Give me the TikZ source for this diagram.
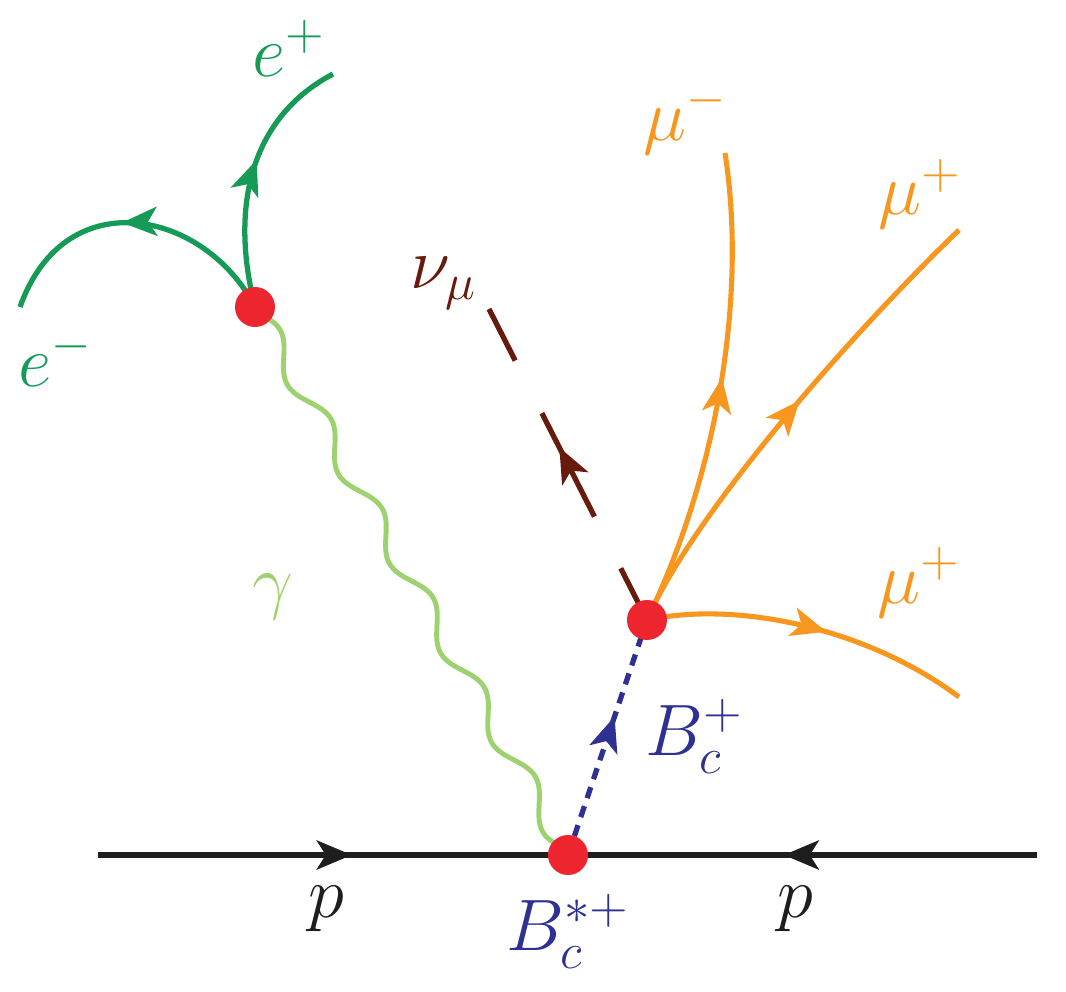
\documentclass[tikz,border=0pt]{standalone}
\usepackage{amsmath}
\usepackage{xcolor}
\usetikzlibrary{arrows.meta,decorations.markings,decorations.pathmorphing}
\definecolor{elecgreen}{RGB}{22,155,87}
\definecolor{photgreen}{RGB}{158,210,112}
\definecolor{muorange}{RGB}{247,151,32}
\definecolor{nubrown}{RGB}{102,27,12}
\definecolor{mesblue}{RGB}{46,49,146}
\definecolor{vtxred}{RGB}{237,37,47}
\definecolor{pblack}{RGB}{30,30,30}
\tikzstyle{vtx}=[circle, fill=vtxred, inner sep=0pt, minimum size=4mm]
\tikzstyle{lbl}=[inner sep=0pt, anchor=base west]
\tikzstyle{proton}=[draw=pblack, line width=1.7pt]
\tikzstyle{photon}=[draw=photgreen, line width=1.4pt, decorate, decoration={snake, segment length=10.3mm, amplitude=1.05mm}]
\tikzstyle{meson}=[draw=mesblue, line width=1.5pt, dash pattern=on 1.15mm off 0.85mm]
\tikzstyle{neutrino}=[draw=nubrown, line width=1.5pt, dash pattern=on 5.8mm off 5.8mm on 11.6mm off 5.9mm on 5.8mm]
\tikzstyle{muon}=[draw=muorange, line width=1.45pt]
\tikzstyle{electron}=[draw=elecgreen, line width=1.5pt]
\tikzset{midarrow/.style={postaction={decorate}, decoration={markings, mark=at position #1 with {\arrow{Stealth[length=3.5mm,width=2.9mm,inset=0.9mm]}}}}}
\begin{document}
\begin{tikzpicture}[x=0.1mm, y=-0.1mm, font=\huge]
\useasboundingbox (0,0) rectangle (1066,992);
% vertices
\coordinate (v1) at (568,855);
\coordinate (v2) at (647,620);
\coordinate (v3) at (255,307);
% free ends
\coordinate (pl) at (98,855);
\coordinate (pr) at (1037,855);
\coordinate (nuend) at (489,309);
\coordinate (mumend) at (725,153);
\coordinate (mupend) at (959,230);
\coordinate (muqend) at (959,697);
\coordinate (epend) at (333,74);
\coordinate (emend) at (20,307);

% protons
\draw[proton, midarrow=0.54] (pl) -- (v1);
\draw[proton, midarrow=0.54] (pr) -- (v1);
% photon
\draw[photon] (v3) -- (v1);
% B_c
\draw[meson, midarrow=0.59] (v1) -- (v2);
% neutrino
\draw[neutrino, midarrow=0.555] (v2) -- (nuend);
% muons
\draw[muon, midarrow=0.53] (v2) .. controls (715,480) and (748,300) .. (mumend);
\draw[muon, midarrow=0.535] (v2) .. controls (690,520) and (840,345) .. (mupend);
\draw[muon, midarrow=0.55] (v2) .. controls (740,600) and (870,630) .. (muqend);
% electrons
\draw[electron, midarrow=0.56] (v3) .. controls (228,200) and (255,115) .. (epend);
\draw[electron, midarrow=0.54] (v3) .. controls (205,210) and (65,180) .. (emend);
% dots
\node[vtx] (d1) at (v1) {};
\node[vtx] (d2) at (v2) {};
\node[vtx] (d3) at (v3) {};
% labels
\node[lbl, text=elecgreen] (lep) at (252,76) {$e^+$};
\node[lbl, text=elecgreen] (lem) at (18,386) {$e^-$};
\node[lbl, text=photgreen] (lgam) at (252,605) {$\gamma$};
\node[lbl, text=nubrown] (lnu) at (410,289) {$\nu_\mu$};
\node[lbl, text=muorange] (lmum) at (643,140) {$\mu^-$};
\node[lbl, text=muorange] (lmup) at (878,215) {$\mu^+$};
\node[lbl, text=muorange] (lmuq) at (877,603) {$\mu^+$};
\node[lbl, text=mesblue] (lbc) at (645,755) {$B_c^+$};
\node[lbl, text=mesblue] (lbcs) at (506,950) {$B_c^{*+}$};
\node[inner sep=0pt, anchor=base, text=pblack] (lpl) at (326,917) {$p$};
\node[inner sep=0pt, anchor=base, text=pblack] (lpr) at (795,917) {$p$};
\end{tikzpicture}
\end{document}
